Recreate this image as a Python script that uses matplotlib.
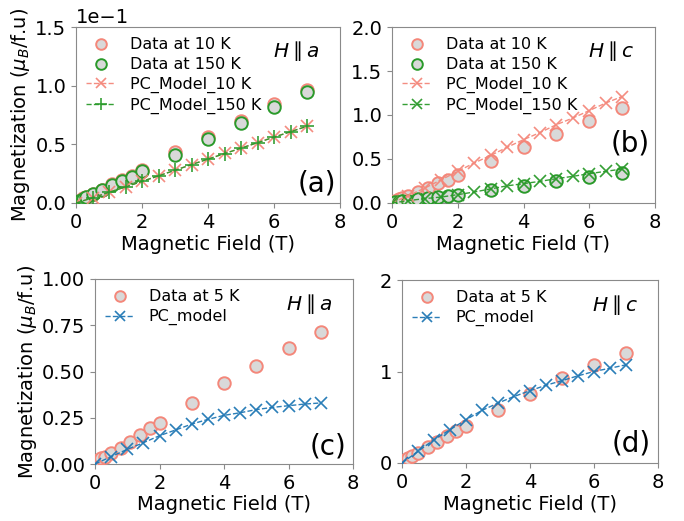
import matplotlib
matplotlib.use("Agg")
import matplotlib.pyplot as plt
import numpy as np

# ---- data ----
field_data = [0.0, 0.05, 0.1, 0.2, 0.3, 0.5, 0.8, 1.1, 1.4, 1.7, 2.0, 3.0, 4.0, 5.0, 6.0, 7.0]
field_model = [0.0, 0.5, 1.0, 1.5, 2.0, 2.5, 3.0, 3.5, 4.0, 4.5, 5.0, 5.5, 6.0, 6.5, 7.0]

# panel (a) H || a
a_data_10K = [0.0, 0.001, 0.002, 0.004, 0.005, 0.0078, 0.0112, 0.0158, 0.0200, 0.0230, 0.0284, 0.0438, 0.0565, 0.0695, 0.0845, 0.0962]
a_data_150K = [0.0, 0.001, 0.002, 0.0038, 0.0048, 0.0074, 0.0108, 0.0150, 0.0190, 0.0222, 0.0270, 0.0410, 0.0548, 0.0678, 0.0814, 0.0946]
a_model_10K = [0.0, 0.0045, 0.0092, 0.0138, 0.0185, 0.0232, 0.0280, 0.0328, 0.0375, 0.0422, 0.0468, 0.0515, 0.0562, 0.0608, 0.0655]
a_model_150K = [0.0, 0.0044, 0.0091, 0.0137, 0.0184, 0.0231, 0.0279, 0.0327, 0.0374, 0.0421, 0.0467, 0.0514, 0.0561, 0.0607, 0.0654]

# panel (b) H || c
b_data_10K = [0.0, 0.01, 0.02, 0.04, 0.057, 0.085, 0.13, 0.17, 0.23, 0.265, 0.314, 0.473, 0.633, 0.788, 0.935, 1.08]
b_data_150K = [0.0, 0.004, 0.008, 0.013, 0.018, 0.028, 0.043, 0.056, 0.068, 0.082, 0.095, 0.144, 0.197, 0.246, 0.295, 0.34]
b_model_10K = [0.0, 0.085, 0.17, 0.265, 0.36, 0.455, 0.54, 0.633, 0.72, 0.80, 0.89, 0.966, 1.05, 1.136, 1.21]
b_model_150K = [0.0, 0.027, 0.05, 0.068, 0.095, 0.125, 0.16, 0.195, 0.22, 0.246, 0.276, 0.303, 0.333, 0.36, 0.386]

# panel (c) H || a, 5 K
c_data_5K = [0.0, 0.01, 0.02, 0.03, 0.04, 0.058, 0.088, 0.12, 0.155, 0.193, 0.222, 0.33, 0.436, 0.53, 0.625, 0.715]
c_model = [0.0, 0.04, 0.079, 0.115, 0.153, 0.184, 0.216, 0.241, 0.263, 0.277, 0.294, 0.306, 0.315, 0.324, 0.33]

# panel (d) H || c, 5 K
d_data_5K = [0.0, 0.015, 0.03, 0.055, 0.073, 0.11, 0.17, 0.23, 0.29, 0.345, 0.40, 0.582, 0.756, 0.927, 1.073, 1.207]
d_model = [0.0, 0.127, 0.255, 0.364, 0.473, 0.575, 0.655, 0.727, 0.79, 0.85, 0.90, 0.953, 1.0, 1.036, 1.073]

x_ticks = [0, 2, 4, 6, 8]

# ---- style ----
plt.rcParams['font.size'] = 14
SALMON = '#f4877a'
GREEN = '#2a9a2a'
BLUE = '#1f77b4'
FACE = '#d9d9d9'
SPINE = '#8a8a8a'

W, H = 684, 521
fig = plt.figure(figsize=(W / 100, H / 100), dpi=100)


def make_ax(l, r, t, b):
    return fig.add_axes([l / W, (H - b) / H, (r - l) / W, (b - t) / H])


axa = make_ax(76, 340, 27, 203)
axb = make_ax(392, 655, 27, 203)
axc = make_ax(95, 353, 279, 464)
axd = make_ax(402, 658, 280, 463)

ms = 9
mew = 1.4


def data_pts(ax, x, y, ec, label):
    ax.plot(x, y, 'o', ms=ms, mfc=FACE, mec=ec, mew=mew, label=label, zorder=3)


def model_line(ax, x, y, c, marker, label, msize=9):
    ax.plot(x, y, '--', color=c, marker=marker, ms=msize, mew=1.2, lw=1.0,
            label=label, zorder=4, alpha=0.95)


# (a)
data_pts(axa, field_data, a_data_10K, SALMON, 'Data at 10 K')
data_pts(axa, field_data, a_data_150K, GREEN, 'Data at 150 K')
model_line(axa, field_model, a_model_10K, SALMON, 'x', 'PC_Model_10 K')
model_line(axa, field_model, a_model_150K, GREEN, '+', 'PC_Model_150 K', msize=10)
axa.set_ylim(0, 0.15)
axa.set_yticks([0, 0.05, 0.10, 0.15])
axa.ticklabel_format(axis='y', style='sci', scilimits=(-1, -1), useMathText=False)

# (b)
data_pts(axb, field_data, b_data_10K, SALMON, 'Data at 10 K')
data_pts(axb, field_data, b_data_150K, GREEN, 'Data at 150 K')
model_line(axb, field_model, b_model_10K, SALMON, 'x', 'PC_Model_10 K')
model_line(axb, field_model, b_model_150K, GREEN, 'x', 'PC_Model_150 K')
axb.set_ylim(0, 2.0)
axb.set_yticks([0, 0.5, 1.0, 1.5, 2.0])

# (c)
data_pts(axc, field_data, c_data_5K, SALMON, 'Data at 5 K')
model_line(axc, field_model, c_model, BLUE, 'x', 'PC_model')
axc.set_ylim(0, 1.0)
axc.set_yticks([0, 0.25, 0.5, 0.75, 1.0])
axc.set_yticklabels(['0.00', '0.25', '0.50', '0.75', '1.00'])

# (d)
data_pts(axd, field_data, d_data_5K, SALMON, 'Data at 5 K')
model_line(axd, field_model, d_model, BLUE, 'x', 'PC_model')
axd.set_ylim(0, 2)
axd.set_yticks([0, 1, 2])

panels = [
    (axa, 'a', '(a)', (0.985, 0.03)),
    (axb, 'c', '(b)', (0.98, 0.26)),
    (axc, 'a', '(c)', (0.975, 0.02)),
    (axd, 'c', '(d)', (0.97, 0.03)),
]
for ax, orient, tag, pos in panels:
    ax.set_xlim(0, 8)
    ax.set_xticks(x_ticks)
    ax.set_xlabel('Magnetic Field (T)', fontsize=14, labelpad=2)
    for s in ax.spines.values():
        s.set_color(SPINE)
    ax.tick_params(color=SPINE, labelsize=14)
    ax.legend(loc='upper left', frameon=False, fontsize=11.5, handlelength=1.8,
              borderaxespad=0.25, labelspacing=0.3, handletextpad=0.9,
              markerscale=0.85)
    ax.text(0.92, 0.93, r'$H\parallel %s$' % orient, transform=ax.transAxes,
            ha='right', va='top', fontsize=14.5)
    ax.text(pos[0], pos[1], tag, transform=ax.transAxes, ha='right', va='bottom',
            fontsize=20)

axa.set_ylabel(r'Magnetization ($\mu_B$/f.u)', fontsize=14, labelpad=2)
axc.set_ylabel(r'Magnetization ($\mu_B$/f.u)', fontsize=14, labelpad=2)

fig.savefig('out.png', dpi=100)
